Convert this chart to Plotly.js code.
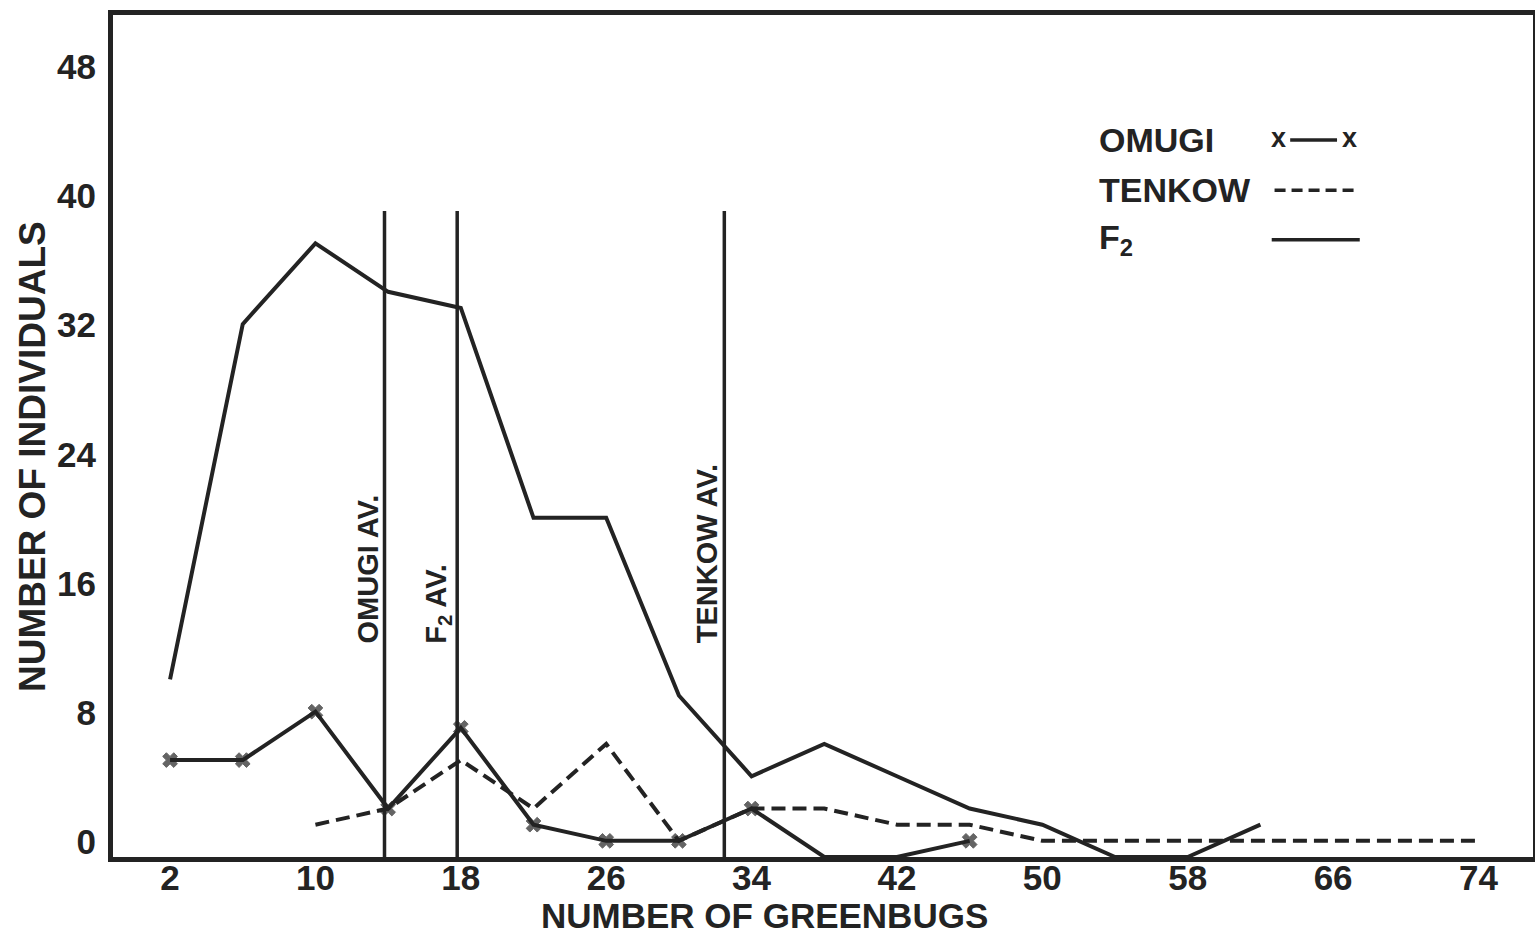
<!DOCTYPE html>
<html><head><meta charset="utf-8">
<script src="https://cdn.plot.ly/plotly-3.0.1.min.js"></script>
<style>html,body{margin:0;padding:0;background:#fff}#chart{width:1535px;height:934px}</style>
</head><body><div id="chart"></div>
<script>
// ---- data ----
const greenbugs = [2, 6, 10, 14, 18, 22, 26, 30, 34, 38, 42, 46, 50, 54, 58, 62, 66, 70, 74];
const omugi  = [6, 6, 9, 3, 8, 2, 1, 1, 3, 0, 0, 1, null, null, null, null, null, null, null];
const tenkow = [null, null, 2, 3, 6, 3, 7, 1, 3, 3, 2, 2, 1, 1, 1, 1, 1, 1, 1];
const f2     = [11, 33, 38, 35, 34, 21, 21, 10, 5, 7, 5, 3, 2, 0, 0, 2, null, null, null];
const seriesNames = ['OMUGI', 'TENKOW', 'F<sub>2</sub>'];
const averageLabels = ['OMUGI AV.', 'F<sub>2</sub> AV.', 'TENKOW AV.'];
const averageValues = [13.8, 17.8, 32.5];
const averageTop = 40;
const xTickVals = [2, 10, 18, 26, 34, 42, 50, 58, 66, 74];
const yTickVals = [0, 8, 16, 24, 32, 40, 48];
const xTitle = 'NUMBER OF GREENBUGS';
const yTitle = 'NUMBER OF INDIVIDUALS';

// ---- styling ----
const INK = '#232323';
const FONT = 'Liberation Sans, Arial, sans-serif';

const traces = [
  {x: greenbugs, y: f2, mode: 'lines', line: {color: INK, width: 4}, name: 'F2', showlegend: false},
  {x: greenbugs, y: tenkow, mode: 'lines', line: {color: INK, width: 4, dash: '14px,7px'}, name: 'TENKOW', showlegend: false},
  {x: greenbugs, y: omugi, mode: 'lines+markers', line: {color: INK, width: 4},
   marker: {symbol: 'x', size: omugi.map(v => (v > 0 ? 13 : 0)), color: INK, line: {color: INK, width: 1}},
   name: 'OMUGI', showlegend: false}
];

const shapes = averageValues.map(v => ({
  type: 'line', xref: 'x', yref: 'y', x0: v, x1: v, y0: 0, y1: averageTop,
  line: {color: INK, width: 3.5}, layer: 'above'
}));

// legend keys (paper coordinates)
const keyX0 = 0.818, keyX1 = 0.876;
const keyY = [0.8515, 0.792, 0.733];
shapes.push({type: 'line', xref: 'paper', yref: 'paper', x0: 0.829, x1: 0.862, y0: keyY[0], y1: keyY[0], line: {color: INK, width: 3.5}});
shapes.push({type: 'line', xref: 'paper', yref: 'paper', x0: keyX0, x1: keyX1, y0: keyY[1], y1: keyY[1], line: {color: INK, width: 3.5, dash: '11px,6px'}});
shapes.push({type: 'line', xref: 'paper', yref: 'paper', x0: keyX0 - 0.002, x1: keyX1 + 0.002, y0: keyY[2], y1: keyY[2], line: {color: INK, width: 3.5}});

const annotations = [];
averageValues.forEach((v, i) => {
  annotations.push({
    x: v, y: 13.1, xref: 'x', yref: 'y', text: averageLabels[i], textangle: -90,
    xanchor: 'right', yanchor: 'bottom', showarrow: false, xshift: 1,
    font: {family: FONT, size: 29, color: INK, weight: 'bold'}
  });
});
seriesNames.forEach((n, i) => {
  annotations.push({
    x: 0.693, y: keyY[i], xref: 'paper', yref: 'paper', text: n,
    xanchor: 'left', yanchor: 'middle', showarrow: false,
    font: {family: FONT, size: 34, color: INK, weight: 'bold'}
  });
});
[0.8205, 0.8705].forEach(px => annotations.push({
  x: px, y: keyY[0] + 0.003, xref: 'paper', yref: 'paper', text: 'x', showarrow: false,
  xanchor: 'center', yanchor: 'middle', font: {family: FONT, size: 27, color: INK, weight: 'bold'}
}));
// axis titles (placed as in the reference, off-centre)
annotations.push({
  x: 0.4585, y: 0, xref: 'paper', yref: 'paper', yshift: -58, text: xTitle, showarrow: false,
  xanchor: 'center', yanchor: 'middle', font: {family: FONT, size: 35, color: INK, weight: 'bold'}
});
annotations.push({
  x: 0, y: 0.475, xref: 'paper', yref: 'paper', xshift: -81, text: yTitle, showarrow: false, textangle: -90,
  xanchor: 'center', yanchor: 'middle', font: {family: FONT, size: 37, color: INK, weight: 'bold'}
});

const layout = {
  width: 1535, height: 934,
  paper_bgcolor: '#ffffff', plot_bgcolor: '#ffffff',
  margin: {l: 113, r: 2, t: 15, b: 77, pad: 0},
  font: {family: FONT, color: INK, weight: 'bold'},
  showlegend: false,
  xaxis: {
    range: [-1.14, 77.0], tickvals: xTickVals, ticktext: xTickVals.map(String),
    showgrid: false, zeroline: false, showline: true, linecolor: INK, linewidth: 5, mirror: true,
    ticks: '', ticklen: 0, tickfont: {family: FONT, size: 35, color: INK, weight: 'bold'}, ticklabelstandoff: -14
  },
  yaxis: {
    range: [-0.001, 52.14], tickvals: yTickVals, ticktext: yTickVals.map(String),
    showgrid: false, zeroline: false, showline: true, linecolor: INK, linewidth: 5, mirror: true,
    ticks: '', ticklen: 0, tickfont: {family: FONT, size: 35, color: INK, weight: 'bold'}, ticklabelshift: -15, ticklabelstandoff: 5
  },
  shapes: shapes,
  annotations: annotations
};

Plotly.newPlot('chart', traces, layout, {displayModeBar: false, staticPlot: true});
</script>
</body></html>
